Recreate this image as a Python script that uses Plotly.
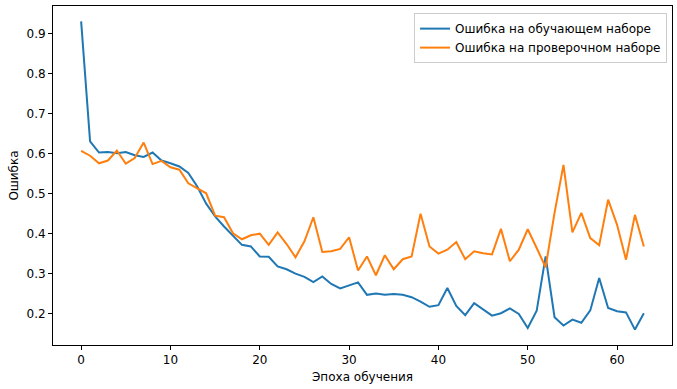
import plotly.graph_objects as go

epochs = list(range(64))
train_loss = [0.931, 0.631, 0.603, 0.604, 0.601, 0.604, 0.596, 0.592, 0.603, 0.583,
              0.576, 0.568, 0.552, 0.518, 0.475, 0.443, 0.418, 0.396, 0.372, 0.368,
              0.343, 0.342, 0.318, 0.311, 0.300, 0.292, 0.279, 0.293, 0.274, 0.263,
              0.271, 0.278, 0.247, 0.250, 0.247, 0.249, 0.247, 0.241, 0.230, 0.217,
              0.221, 0.264, 0.219, 0.196, 0.226, 0.211, 0.195, 0.201, 0.213, 0.199,
              0.164, 0.207, 0.343, 0.191, 0.170, 0.185, 0.177, 0.208, 0.289, 0.214,
              0.206, 0.203, 0.160, 0.201]
val_loss = [0.607, 0.595, 0.576, 0.583, 0.608, 0.575, 0.589, 0.628, 0.574, 0.582,
            0.566, 0.560, 0.526, 0.513, 0.501, 0.445, 0.441, 0.401, 0.386, 0.396,
            0.400, 0.372, 0.403, 0.374, 0.341, 0.381, 0.441, 0.354, 0.356, 0.362,
            0.391, 0.308, 0.343, 0.296, 0.346, 0.311, 0.336, 0.343, 0.450, 0.368,
            0.350, 0.360, 0.379, 0.336, 0.356, 0.351, 0.348, 0.412, 0.331, 0.360,
            0.411, 0.364, 0.316, 0.452, 0.572, 0.403, 0.452, 0.389, 0.371, 0.485,
            0.422, 0.335, 0.447, 0.368]
name_train = "Ошибка на обучающем наборе"
name_val = "Ошибка на проверочном наборе"
x_title = "Эпоха обучения"
y_title = "Ошибка"

FONT = "DejaVu Sans"
FS = 12

fig = go.Figure()
fig.add_trace(go.Scatter(x=epochs, y=train_loss, mode="lines", name=name_train,
                         line=dict(color="#1f77b4", width=2)))
fig.add_trace(go.Scatter(x=epochs, y=val_loss, mode="lines", name=name_val,
                         line=dict(color="#ff7f0e", width=2)))

allv = train_loss + val_loss
ymin, ymax = min(allv), max(allv)
ypad = 0.05 * (ymax - ymin)
xpad = 0.05 * (epochs[-1] - epochs[0])

axis_common = dict(showgrid=False, zeroline=False, showline=True, linecolor="black",
                   linewidth=1, mirror=True, ticks="outside", ticklen=4,
                   tickcolor="black", tickwidth=1, automargin=False,
                   tickfont=dict(family=FONT, size=FS, color="black"))

fig.update_layout(
    width=677, height=389,
    margin=dict(l=53, r=5, t=6, b=44),
    paper_bgcolor="white", plot_bgcolor="white",
    font=dict(family=FONT, size=FS, color="black"),
    xaxis=dict(range=[epochs[0] - xpad, epochs[-1] + xpad], tickmode="linear",
               tick0=0, dtick=10,
               title=dict(text=x_title, font=dict(family=FONT, size=FS), standoff=6),
               **axis_common),
    yaxis=dict(range=[ymin - ypad, ymax + ypad], tickmode="linear", tick0=0.1,
               dtick=0.1, tickformat=".1f",
               title=dict(text=y_title, font=dict(family=FONT, size=FS), standoff=5),
               **axis_common),
    legend=dict(x=0.992, y=0.979, xanchor="right", yanchor="top",
                bgcolor="rgba(255,255,255,0.8)", bordercolor="#cccccc", borderwidth=1,
                font=dict(family=FONT, size=FS), itemwidth=30,
                tracegroupgap=0),
    showlegend=True,
)

fig.write_html("out.html", config={"displayModeBar": False},
               post_script="document.body.style.margin='0px';document.body.style.padding='0px';")
